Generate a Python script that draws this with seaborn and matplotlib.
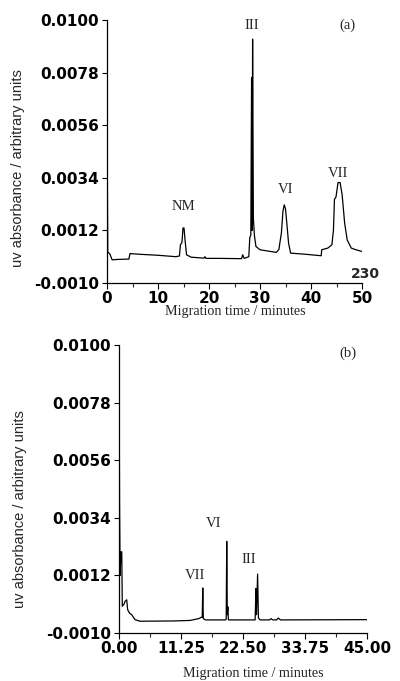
import matplotlib
matplotlib.use("Agg")
import matplotlib.pyplot as plt
import seaborn as sns
import pandas as pd
import numpy as np
from matplotlib.ticker import MultipleLocator

# ---------------- data ----------------
# Panel (a) electropherogram (time in minutes, absorbance)
time_a = [0.0, 0.08, 0.15, 0.6, 1.0, 2.5, 4.3, 4.5, 6.5, 10.0, 13.5, 14.2, 14.4, 14.7, 14.9,
          15.1, 15.3, 15.6, 16.5, 19.0, 19.2, 19.4, 22.0, 25.5, 26.4, 26.6, 26.9, 27.8, 28.0,
          28.2, 28.35, 28.45, 28.55, 28.7, 28.9, 29.2, 30.0, 33.2, 33.7, 34.2, 34.5, 34.75,
          35.0, 35.3, 35.6, 36.0, 39.0, 42.0, 42.1, 43.3, 44.1, 44.4, 44.6, 44.9, 45.3, 45.7,
          46.1, 46.6, 47.1, 47.9, 48.8, 50.0]
abs_a = [0.0077, 0.0030, 0.0003, 0.0002, -0.00003, -0.00001, 0.0, 0.00023, 0.0002, 0.00016,
         0.0001, 0.00013, 0.0006, 0.0007, 0.0013, 0.0013, 0.0008, 0.00018, 0.00008, 0.00004,
         0.0001, 0.00003, 0.00003, 0.00002, 0.00002, 0.00018, 0.00003, 0.0001, 0.0009, 0.0010,
         0.0076, 0.0012, 0.0092, 0.0017, 0.0010, 0.00053, 0.00039, 0.00028, 0.0004, 0.0011,
         0.0020, 0.00227, 0.0021, 0.0014, 0.00067, 0.00025, 0.0002, 0.00014, 0.00039, 0.00046,
         0.0006, 0.0012, 0.0025, 0.0026, 0.0032, 0.0032, 0.0027, 0.0015, 0.0008, 0.00046,
         0.00039, 0.00032]

# Panel (b) electropherogram
time_b = [0.0, 0.1, 0.2, 0.35, 0.5, 0.6, 0.9, 1.1, 1.4, 1.57, 1.9, 2.3, 2.9, 3.8, 10.0, 12.9,
          14.5, 14.9, 15.1, 15.2, 15.3, 15.7, 19.3, 19.45, 19.55, 19.65, 19.75, 19.85, 24.7,
          24.85, 24.95, 25.15, 25.3, 25.6, 27.3, 27.6, 27.9, 28.6, 28.9, 29.3, 45.0]
abs_b = [0.0100, 0.0040, 0.0012, 0.0021, 0.0021, 0.00002, 0.0001, 0.00021, 0.00027, -0.00011,
         -0.00024, -0.0003, -0.00049, -0.00055, -0.00054, -0.00052, -0.00045, -0.0004, -0.0004,
         0.00072, -0.00045, -0.0005, -0.0005, -0.00048, 0.0025, -0.0003, 0.0, -0.0005, -0.0005,
         0.0007, -0.0003, 0.00125, -0.00042, -0.0005, -0.0005, -0.00045, -0.0005, -0.0005,
         -0.00043, -0.0005, -0.00049]

y_ticks = [-0.0010, 0.0012, 0.0034, 0.0056, 0.0078, 0.0100]
x_ticks_a = [0, 10, 20, 30, 40, 50]
x_ticks_b = [0.0, 11.25, 22.5, 33.75, 45.0]

labels_a = ["NM", "III", "VI", "VII"]
label_pos_a = [(14.9, 0.00218), (28.4, 0.00979), (35.1, 0.00293), (45.3, 0.0036)]
labels_b = ["VII", "VI", "III"]
label_pos_b = [(13.8, 0.0012), (17.1, 0.0032), (23.5, 0.00179)]

# ---------------- style ----------------
sns.set_style("ticks")
plt.rcParams["font.family"] = ["DejaVu Sans"]

tick_font = dict(family="DejaVu Sans", weight="bold", size=11)
serif = ["Liberation Serif", "DejaVu Serif"]
sans = ["Liberation Sans", "DejaVu Sans"]

fig = plt.figure(figsize=(4.0, 6.81), dpi=100)

ax_a = fig.add_axes([107 / 400, 1 - 283 / 681, 255 / 400, 263 / 681])
ax_b = fig.add_axes([119 / 400, 1 - 633 / 681, 248 / 400, 288 / 681])

df_a = pd.DataFrame({"t": time_a, "a": abs_a})
df_b = pd.DataFrame({"t": time_b, "a": abs_b})

sns.lineplot(data=df_a, x="t", y="a", ax=ax_a, color="black", lw=0.9,
             estimator=None, sort=False)
sns.lineplot(data=df_b, x="t", y="a", ax=ax_b, color="black", lw=0.9,
             estimator=None, sort=False)


def style_axes(ax, xmax, xticks, fmt, minor):
    ax.set_xlim(0, xmax)
    ax.set_ylim(-0.0010, 0.0100)
    ax.set_yticks(y_ticks)
    ax.set_yticklabels([f"{v:.4f}" for v in y_ticks], fontdict=tick_font)
    ax.set_xticks(xticks)
    ax.set_xticklabels([fmt.format(v) for v in xticks], fontdict=tick_font)
    ax.xaxis.set_minor_locator(MultipleLocator(minor))
    for s in ["top", "right"]:
        ax.spines[s].set_visible(False)
    for s in ["left", "bottom"]:
        ax.spines[s].set_linewidth(0.9)
        ax.spines[s].set_color("black")
    ax.tick_params(axis="y", which="major", direction="out", length=3.5, width=0.8,
                   pad=2, colors="black")
    ax.tick_params(axis="x", which="major", direction="out", length=4, width=0.8,
                   pad=2, colors="black")
    ax.tick_params(axis="x", which="minor", direction="out", length=3, width=0.8)
    ax.set_xlabel("")
    ax.set_ylabel("")


style_axes(ax_a, 50, x_ticks_a, "{:.0f}", 5)
style_axes(ax_b, 45, x_ticks_b, "{:.2f}", 5.625)

# axis labels
fig.text(18 / 400, 1 - 168 / 681, "uv absorbance / arbitrary units", rotation=90,
         ha="center", va="center", family=sans, fontsize=10.5)
fig.text(20 / 400, 1 - 509 / 681, "uv absorbance / arbitrary units", rotation=90,
         ha="center", va="center", family=sans, fontsize=10.5)
fig.text(235 / 400, 1 - 312 / 681, "Migration time / minutes", ha="center", va="center",
         family=serif, fontsize=10.2)
fig.text(253 / 400, 1 - 674 / 681, "Migration time / minutes", ha="center", va="center",
         family=serif, fontsize=10.2)

# peak labels
for lab, (x, y) in zip(labels_a, label_pos_a):
    ax_a.text(x, y, lab, ha="center", va="center", family=serif, fontsize=10.5)
for lab, (x, y) in zip(labels_b, label_pos_b):
    ax_b.text(x, y, lab, ha="center", va="center", family=serif, fontsize=10.5)

ax_a.text(47.1, 0.00979, "(a)", ha="center", va="center", family=serif, fontsize=10.5)
ax_b.text(41.5, 0.0097, "(b)", ha="center", va="center", family=serif, fontsize=10.5)
ax_a.text(53.5, -0.00062, "230", ha="right", va="center", family="DejaVu Sans",
          weight="bold", fontsize=10, clip_on=False)

fig.savefig("out.png", dpi=100)
